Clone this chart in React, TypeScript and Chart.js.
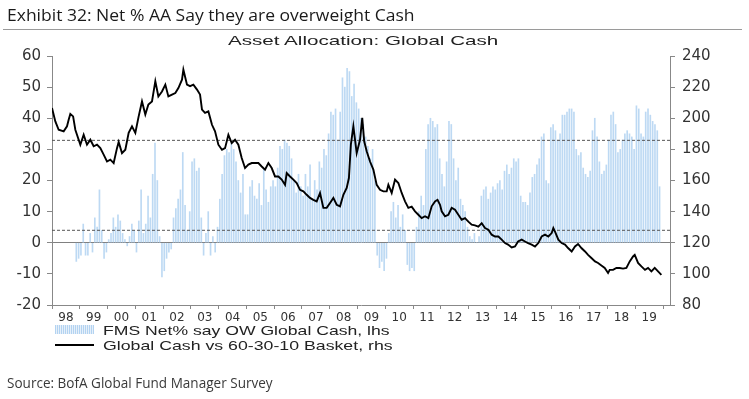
import React, { useEffect, useLayoutEffect, useRef } from 'react';
import { Chart, registerables } from 'chart.js';

Chart.register(...registerables);

// ---- Data -----------------------------------------------------------------
const xTickLabels = ['98','99','00','01','02','03','04','05','06','07','08','09','10','11','12','13','14','15','16','17','18','19'];
const yearTicks = [1998,1999,2000,2001,2002,2003,2004,2005,2006,2007,2008,2009,2010,2011,2012,2013,2014,2015,2016,2017,2018,2019,2020];

// FMS Net % say overweight Global Cash (lhs), monthly, starting Nov 1998
const fmsStartYear = 1998;
const fmsStartMonth = 10; // November (0-based)
const fmsNetOW = [
  -6, -5,
  -4, 6, -4, -4, 3, -3, 8, 5, 17, 4, -5, -3,
  1, 3, 8, 5, 9, 7, 3, 1, -1, 2, 6, 4,
  -3, 7, 17, 3, 6, 15, 8, 22, 32, 20, 2, -11,
  -9, -5, -3, -2, 8, 11, 14, 17, 29, 12, 4, 10,
  26, 27, 23, 24, 8, -4, 3, 10, -4, 2, -3, 5,
  14, 22, 28, 30, 29, 32, 30, 26, 20, 16, 22, 9,
  9, 18, 20, 15, 14, 19, 12, 24, 17, 13, 18, 20,
  18, 24, 31, 30, 33, 32, 31, 27, 20, 16, 22, 18,
  15, 22, 18, 25, 14, 20, 17, 26, 24, 30, 28, 35,
  42, 41, 43, 33, 42, 53, 50, 56, 55, 47, 51, 45,
  43, 40, 38, 34, 31, 27, 30, 20, -4, -8, -6, -9,
  -5, 3, 10, 13, 8, 12, 5, 9, 4, -7, -9, -8,
  -9, 5, 10, 15, 12, 30, 38, 40, 39, 37, 38, 27,
  22, 18, 26, 39, 38, 27, 20, 24, 14, 12, 10, 5,
  2, 1, 3, 0, 2, 15, 17, 18, 14, 16, 18, 17,
  19, 20, 17, 23, 25, 22, 24, 27, 26, 27, 15, 13,
  13, 12, 16, 21, 22, 25, 27, 34, 35, 20, 19, 37,
  38, 36, 33, 35, 41, 41, 42, 43, 43, 42, 30, 28,
  29, 24, 22, 21, 23, 36, 40, 34, 26, 22, 23, 25,
  33, 41, 42, 38, 29, 30, 33, 35, 36, 35, 34, 30,
  44, 43, 35, 34, 42, 43, 41, 39, 38, 36, 18,
];

// Global Cash vs 60-30-10 Basket (rhs): dates (decimal years) and values
const cashDates = [
  1998.00, 1998.12, 1998.24, 1998.42, 1998.54, 1998.60, 1998.66, 1998.76, 1998.84, 1998.96,
  1999.02, 1999.14, 1999.26, 1999.38, 1999.50, 1999.62, 1999.74, 1999.86, 1999.98,
  2000.10, 2000.22, 2000.34, 2000.40, 2000.52, 2000.64, 2000.76, 2000.88,
  2001.00, 2001.12, 2001.24, 2001.36, 2001.47, 2001.60, 2001.72, 2001.83, 2001.96,
  2002.08, 2002.19, 2002.32, 2002.44, 2002.55, 2002.68, 2002.73, 2002.86, 2002.97,
  2003.09, 2003.22, 2003.33, 2003.40, 2003.51, 2003.63, 2003.76, 2003.87, 2003.99,
  2004.12, 2004.23, 2004.35, 2004.47, 2004.59, 2004.71, 2004.83, 2004.95,
  2005.07, 2005.19, 2005.31, 2005.43, 2005.55, 2005.67, 2005.79, 2005.91,
  2006.03, 2006.15, 2006.27, 2006.39, 2006.45, 2006.57, 2006.69, 2006.81, 2006.93,
  2007.05, 2007.17, 2007.29, 2007.41, 2007.53, 2007.65, 2007.77, 2007.89,
  2008.01, 2008.13, 2008.25, 2008.37, 2008.49, 2008.61, 2008.69, 2008.76, 2008.85, 2008.97,
  2009.09, 2009.17, 2009.24, 2009.33, 2009.45, 2009.57, 2009.69, 2009.81, 2009.93,
  2010.05, 2010.11, 2010.23, 2010.35, 2010.47, 2010.59, 2010.71, 2010.83, 2010.95,
  2011.07, 2011.19, 2011.31, 2011.43, 2011.55, 2011.67, 2011.79, 2011.88, 2011.97,
  2012.03, 2012.15, 2012.27, 2012.39, 2012.51, 2012.63, 2012.75, 2012.87, 2012.99,
  2013.11, 2013.23, 2013.35, 2013.47, 2013.59, 2013.71, 2013.83, 2013.95,
  2014.07, 2014.19, 2014.31, 2014.42, 2014.55, 2014.67, 2014.78, 2014.91,
  2015.03, 2015.14, 2015.27, 2015.39, 2015.51, 2015.63, 2015.75, 2015.87, 2015.99,
  2016.05, 2016.11, 2016.23, 2016.35, 2016.47, 2016.58, 2016.71, 2016.83, 2016.94,
  2017.06, 2017.19, 2017.30, 2017.42, 2017.55, 2017.66, 2017.78, 2017.90,
  2018.02, 2018.08, 2018.20, 2018.32, 2018.44, 2018.56, 2018.68, 2018.80, 2018.92, 2018.98,
  2019.10, 2019.22, 2019.35, 2019.46, 2019.58, 2019.70, 2019.82, 2019.94,
];
const cashVsBasket = [
  206.6, 198, 192.6, 191.6, 194.8, 199, 202.8, 201.2, 192.6, 186.2,
  183, 189.4, 183, 186.2, 182, 183, 180.8, 176.6, 172.2,
  173.4, 171.2, 180.8, 184.8, 177.6, 179.8, 190.6, 194.8,
  190.6, 201.2, 210.8, 202.4, 208.8, 210.8, 223.8, 214, 217.2,
  221.6, 214, 215.2, 216.2, 219.4, 224.8, 231.2, 221.6, 220.6,
  221.6, 218.4, 215.2, 205.6, 203.4, 204.4, 195.8, 191.6, 183,
  179.8, 180.8, 189.4, 184, 186.2, 183, 174.4, 168,
  170.2, 171.2, 171.2, 171.2, 169, 167, 171.2, 168,
  162.6, 162.6, 160.6, 157.2, 164.8, 162.6, 160.6, 158.4, 154,
  153, 150.8, 148.8, 147.6, 146.6, 152, 142.4, 142.4,
  145.6, 148.8, 144.4, 143.4, 150.8, 155.2, 161.6, 183, 194.8, 177.6,
  186.2, 200.2, 185.2, 178.8, 172.2, 167, 157.2, 154, 153,
  153, 157.2, 152, 160.6, 158.4, 152, 146.6, 142.4, 143.2,
  140.2, 138, 135.8, 137, 135.8, 143.4, 146.6, 147.6, 144.4,
  140.2, 137, 138, 142.4, 141.2, 138, 134.8, 135.8, 133.6,
  131.6, 131.2, 130.4, 132.6, 129.4, 128.4, 125.2, 124,
  124, 122, 119.8, 118.8, 117, 117.6, 120.8, 122,
  120.8, 119.8, 118.8, 117.6, 119.8, 124, 125.2, 124, 126.2,
  129.4, 127.2, 122, 119.8, 118.8, 116.6, 114.4, 117.6, 119.2,
  116.6, 114.4, 112.2, 110.2, 108, 107, 105.4, 103.8,
  100.6, 102.6, 102.6, 103.8, 103.8, 103.4, 103.8, 108, 111.2, 112.2,
  107, 104.8, 102.6, 103.8, 101.6, 103.8, 101.6, 99.4,
];

// Long-run averages of the FMS series (lhs) shown as dotted lines
const avgHigh = 32.9;
const avgLow = 4.0;

const xMin = 1998;
const xMax = 2020.25;

const legendBars = 'FMS Net% say OW Global Cash, lhs';
const legendLine = 'Global Cash vs 60-30-10 Basket, rhs';

// ---- Helpers ---------------------------------------------------------------
function FitText(props: { text: string; width: number; style: React.CSSProperties }) {
  const ref = useRef<HTMLDivElement | null>(null);
  useLayoutEffect(() => {
    const el = ref.current;
    if (!el) return;
    el.style.transform = 'none';
    const w = el.scrollWidth;
    if (w > 0) el.style.transform = `scaleX(${props.width / w})`;
  }, [props.text, props.width]);
  return (
    <div
      ref={ref}
      style={{
        position: 'absolute',
        whiteSpace: 'nowrap',
        transformOrigin: '0 0',
        display: 'inline-block',
        ...props.style,
      }}
    >
      {props.text}
    </div>
  );
}

export default function App() {
  const canvasRef = useRef<HTMLCanvasElement | null>(null);

  useEffect(() => {
    const canvas = canvasRef.current;
    if (!canvas) return;

    const barData = fmsNetOW.map((v, i) => ({
      x: fmsStartYear + (fmsStartMonth + i + 0.5) / 12,
      y: v,
    }));
    const lineData = cashDates.map((t, i) => ({ x: t, y: cashVsBasket[i] }));

    const chart = new Chart(canvas, {
      type: 'bar',
      data: {
        datasets: [
          {
            type: 'line',
            label: legendLine,
            data: lineData,
            yAxisID: 'y1',
            borderColor: '#000000',
            borderWidth: 1.9,
            pointRadius: 0,
            tension: 0,
            order: 0,
          } as any,
          {
            type: 'line',
            label: 'avgHigh',
            data: [{ x: xMin, y: avgHigh }, { x: xMax, y: avgHigh }],
            yAxisID: 'y',
            borderColor: '#555555',
            borderWidth: 1,
            borderDash: [3, 2],
            pointRadius: 0,
            order: 1,
          } as any,
          {
            type: 'line',
            label: 'avgLow',
            data: [{ x: xMin, y: avgLow }, { x: xMax, y: avgLow }],
            yAxisID: 'y',
            borderColor: '#555555',
            borderWidth: 1,
            borderDash: [3, 2],
            pointRadius: 0,
            order: 1,
          } as any,
          {
            type: 'bar',
            label: legendBars,
            data: barData,
            yAxisID: 'y',
            backgroundColor: 'rgba(178, 210, 241, 0.85)',
            barThickness: 1,
            order: 2,
          } as any,
        ],
      },
      options: {
        animation: false,
        responsive: false,
        maintainAspectRatio: false,
        layout: { padding: { top: 56, bottom: 74, left: 0, right: 0 } },
        plugins: {
          legend: { display: false },
          tooltip: { enabled: false },
          title: { display: false },
        },
        scales: {
          x: {
            type: 'linear',
            min: xMin,
            max: xMax,
            offset: false,
            afterBuildTicks: (s: any) => {
              s.ticks = yearTicks.map((v) => ({ value: v }));
            },
            afterFit: (s: any) => {
              s.height = 20;
            },
            grid: {
              display: true,
              drawOnChartArea: false,
              drawTicks: true,
              tickLength: 4,
              tickColor: '#888888',
              offset: false,
            },
            border: { display: true, color: '#888888', width: 1 },
            ticks: {
              autoSkip: false,
              maxRotation: 0,
              minRotation: 0,
              labelOffset: 13.9,
              padding: 2,
              color: '#333333',
              font: { family: 'DejaVu Sans', size: 12 },
              callback: (_v: any, i: number) => xTickLabels[i] ?? '',
            },
          },
          y: {
            type: 'linear',
            position: 'left',
            min: -20,
            max: 60,
            afterFit: (s: any) => {
              s.width = 52;
            },
            grid: {
              color: (ctx: any) => (ctx.tick && ctx.tick.value === 0 ? '#808080' : 'rgba(0,0,0,0)'),
              tickColor: '#888888',
              tickLength: 5,
              drawTicks: true,
            },
            border: { display: true, color: '#888888', width: 1 },
            ticks: {
              stepSize: 10,
              padding: 6,
              color: '#333333',
              font: { family: 'DejaVu Sans', size: 15 },
            },
          },
          y1: {
            type: 'linear',
            position: 'right',
            min: 80,
            max: 240,
            afterFit: (s: any) => {
              s.width = 79;
            },
            grid: {
              drawOnChartArea: false,
              tickColor: '#888888',
              tickLength: 5,
              drawTicks: true,
            },
            border: { display: true, color: '#888888', width: 1 },
            ticks: {
              stepSize: 20,
              padding: 7,
              color: '#333333',
              font: { family: 'DejaVu Sans', size: 15 },
            },
          },
        },
      } as any,
    });

    return () => {
      chart.destroy();
    };
  }, []);

  return (
    <div
      style={{
        position: 'fixed',
        left: 0,
        top: 0,
        width: 749,
        height: 399,
        background: '#ffffff',
        overflow: 'hidden',
      }}
    >
      <canvas
        ref={canvasRef}
        width={749}
        height={399}
        style={{ position: 'absolute', left: 0, top: 0, width: 749, height: 399, display: 'block' }}
      />
      <FitText
        text="Exhibit 32: Net % AA Say they are overweight Cash"
        width={408}
        style={{ left: 7, top: 7, fontFamily: 'Open Sans', fontSize: 16, lineHeight: '16px', color: '#1a1a1a' }}
      />
      <div style={{ position: 'absolute', left: 3, top: 29, width: 739, height: 1, background: '#9a9a9a' }} />
      <FitText
        text="Asset Allocation: Global Cash"
        width={271}
        style={{ left: 228, top: 34, fontFamily: 'Liberation Sans', fontSize: 13, lineHeight: '13px', color: '#222' }}
      />
      <div
        style={{
          position: 'absolute',
          left: 55,
          top: 325,
          width: 39,
          height: 9,
          background: 'repeating-linear-gradient(90deg, #b3d3f1 0px, #b3d3f1 1px, #e6f0fa 1px, #e6f0fa 2px)',
        }}
      />
      <FitText
        text={legendBars}
        width={287}
        style={{ left: 103, top: 324, fontFamily: 'Liberation Sans', fontSize: 13, lineHeight: '13px', color: '#222' }}
      />
      <div style={{ position: 'absolute', left: 55, top: 344, width: 39, height: 1.5, background: '#000' }} />
      <FitText
        text={legendLine}
        width={289}
        style={{ left: 103, top: 339, fontFamily: 'Liberation Sans', fontSize: 13, lineHeight: '13px', color: '#222' }}
      />
      <FitText
        text="Source: BofA Global Fund Manager Survey"
        width={266}
        style={{ left: 7, top: 376, fontFamily: 'Open Sans', fontSize: 14, lineHeight: '14px', color: '#3a3a3a' }}
      />
    </div>
  );
}
